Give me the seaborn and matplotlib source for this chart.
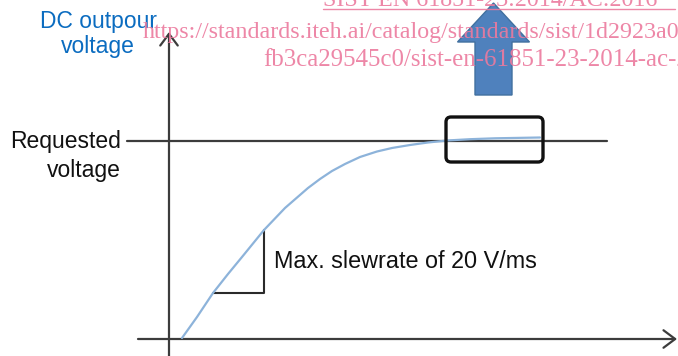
import numpy as np
import pandas as pd
import seaborn as sns
import matplotlib
matplotlib.use("Agg")
from matplotlib import pyplot as plt
from matplotlib.patches import FancyBboxPatch, FancyArrow

# schematic coordinates: x to the right, y measured downward (pixel-like units)
curve_x = [182, 197, 213, 228, 242, 264, 285, 308, 320, 332, 345, 360, 377, 392, 410,
           428, 447, 470, 495, 540]
curve_y = [338, 317, 293, 274, 257, 230, 208, 188, 179, 171, 164, 157, 151.5, 148, 145,
           142.5, 140.5, 139.2, 138.3, 137.5]

requested_level = 141
axis_origin_x = 169
axis_origin_y = 339

slew_label = "Max. slewrate of 20 V/ms"
y_label = "DC outpour\nvoltage"
req_label = "Requested\nvoltage"
watermark = [
    "SIST EN 61851-23:2014/AC:2016",
    "https://standards.iteh.ai/catalog/standards/sist/1d2923a0-",
    "fb3ca29545c0/sist-en-61851-23-2014-ac-2016",
]

df = pd.DataFrame({"t": curve_x, "v": curve_y})

sns.set_style("white")
plt.rcParams["font.family"] = ["Liberation Sans", "DejaVu Sans"]

fig = plt.figure(figsize=(6.78, 3.56), dpi=100)
ax = fig.add_axes([0, 0, 1, 1])
ax.set_xlim(0, 678)
ax.set_ylim(356, 0)
ax.axis("off")

axis_col = "#3c3c3c"
# axes with open arrowheads
ax.annotate("", xy=(677, axis_origin_y), xytext=(138, axis_origin_y),
            arrowprops=dict(arrowstyle="->,head_length=0.6,head_width=0.45",
                            color=axis_col, lw=1.6, mutation_scale=14,
                            shrinkA=0, shrinkB=0))
ax.annotate("", xy=(axis_origin_x, 32), xytext=(axis_origin_x, 356),
            arrowprops=dict(arrowstyle="->,head_length=0.6,head_width=0.45",
                            color=axis_col, lw=1.6, mutation_scale=14,
                            shrinkA=0, shrinkB=0))

# requested voltage level
ax.plot([127, 607], [requested_level, requested_level], color=axis_col, lw=1.6)

# voltage curve
sns.lineplot(data=df, x="t", y="v", ax=ax, color="#8db3da", lw=1.6, zorder=3)

# slew rate triangle
i0, i1 = 2, 5
ax.plot([curve_x[i0], curve_x[i1], curve_x[i1]],
        [curve_y[i0], curve_y[i0], curve_y[i1]], color="#2a2a2a", lw=1.5)
ax.text(274, 261, slew_label, fontsize=16.8, color="#111111", va="center", ha="left")

# settling box
box = FancyBboxPatch((446, 117), 97, 45, boxstyle="round,pad=0,rounding_size=5",
                     fill=False, ec="#111111", lw=2.4, zorder=4)
ax.add_patch(box)

# blue block arrow
arr = FancyArrow(493.5, 95, 0, -92, width=37, head_width=72, head_length=39,
                 length_includes_head=True, fc="#4f81bd", ec="#41709f", lw=1, zorder=5)
ax.add_patch(arr)

# labels
ax.text(98, 34, y_label, fontsize=16.5, color="#0b6cc0", ha="center", va="center",
        linespacing=1.15)
ax.text(121, 156, req_label, fontsize=16.5, color="#111111", ha="right", va="center",
        linespacing=1.3, multialignment="right")

# watermark
wm_kw = dict(color="#ec7a9e", alpha=0.9, family=["Liberation Serif", "DejaVu Serif"],
             va="baseline", ha="left", zorder=10)
ax.text(323, 6, watermark[0], fontsize=17.3, **wm_kw)
ax.plot([323, 675], [8.5, 8.5], color="#ec7a9e", lw=1, alpha=0.9, zorder=10)
ax.text(143, 38, watermark[1], fontsize=17.3, **wm_kw)
ax.text(263, 66, watermark[2], fontsize=17.9, **wm_kw)

fig.savefig("out.png", dpi=100)
